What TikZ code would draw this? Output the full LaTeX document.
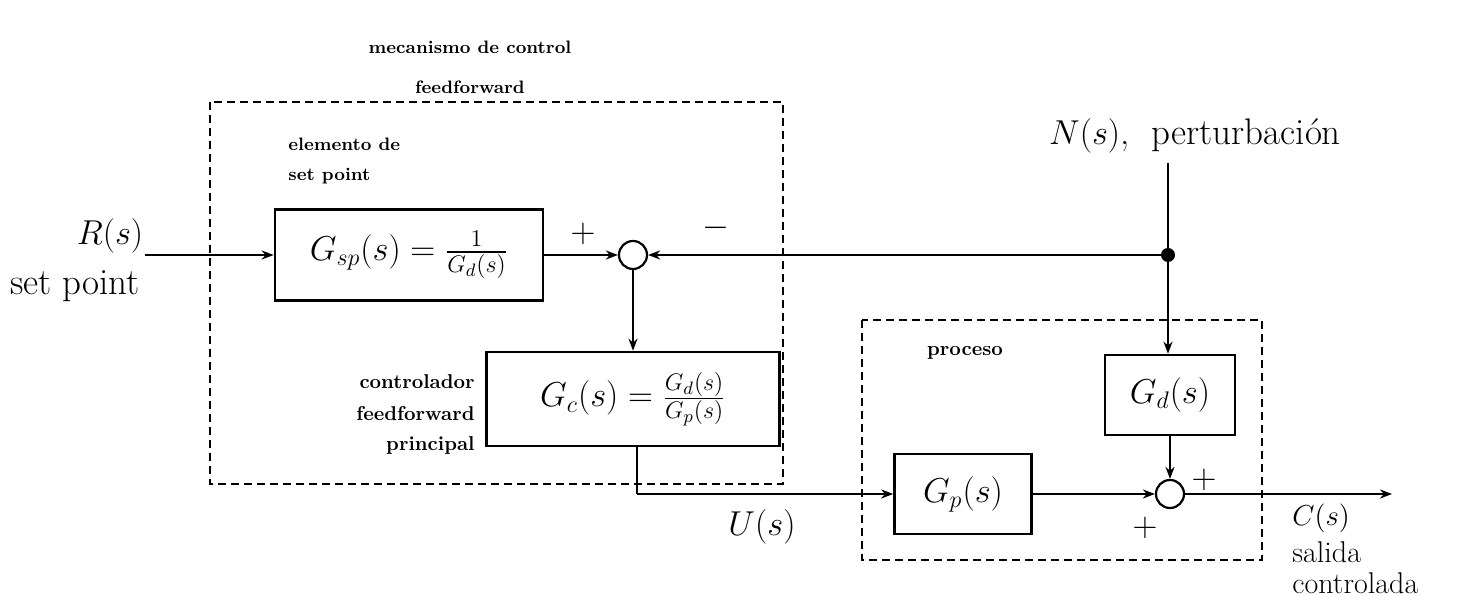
\documentclass[tikz,border=0pt]{standalone}
\usepackage{amsmath}
\usetikzlibrary{arrows.meta}
\begin{document}
\begin{tikzpicture}[x=0.5pt,y=-0.5pt,
  blk/.style={draw,line width=1.3pt,inner sep=0pt,font=\fontsize{18}{21}\selectfont},
  sumnode/.style={draw,circle,line width=1.1pt,minimum size=14pt,inner sep=0pt},
  arr/.style={line width=1.2pt,-{Stealth[length=6pt,width=4.5pt]}},
  ln/.style={line width=1.2pt},
  dbox/.style={line width=1.1pt,dash pattern=on 4pt off 2.5pt},
  lbl/.style={font=\small\bfseries,inner sep=0pt},
  lblb/.style={font=\normalsize\bfseries,inner sep=0pt},
  big/.style={font=\fontsize{18.5}{22}\selectfont,inner sep=0pt},
  outl/.style={font=\fontsize{15}{15.5}\selectfont,inner sep=0pt,align=left}]
\useasboundingbox (0,0) rectangle (1464,597);
% dashed frames
\draw[dbox] (210,102) rectangle (783,484);
\draw[dbox] (862,320) rectangle (1262,560);
% blocks
\node[blk,minimum width=134pt,minimum height=45.5pt] (gsp) at (409,255) {$G_{sp}(s)=\frac{1}{G_d(s)}$};
\node[blk,minimum width=146.5pt,minimum height=47pt] (gc) at (633,399) {$G_c(s)=\frac{G_d(s)}{G_p(s)}$};
\node[blk,minimum width=65pt,minimum height=40pt] (gd) at (1170,395) {$G_d(s)$};
\node[blk,minimum width=68.5pt,minimum height=40pt] (gp) at (963,494) {$G_p(s)$};
\node[sumnode] (s1) at (633,255) {};
\node[sumnode] (s2) at (1170,494) {};
% coordinates
\coordinate (rin) at (145,255);
\coordinate (ntop) at (1168,163);
\coordinate (dot) at (1168,255);
\coordinate (uc) at (637,494);
\coordinate (cout) at (1392,494);
\fill (dot) circle (3.5pt);
% connectors
\draw[arr] (rin) -- (gsp.west);
\draw[arr] (gsp.east) -- (s1.west);
\draw[ln] (ntop) -- (dot);
\draw[arr] (dot) -- (s1.east);
\draw[arr] (dot) -- (dot |- gd.north);
\draw[arr] (s1.south) -- (gc.north);
\draw[ln] (gc.south -| uc) -- (uc);
\draw[arr] (uc) -- (gp.west);
\draw[arr] (gp.east) -- (s2.west);
\draw[arr] (gd.south) -- (s2.north);
\draw[arr] (s2.east) -- (cout);
% texts
\node[big] (rs) at (110,236) {$R(s)$};
\node[big] (rsp) at (75,286) {set point};
\node[big] (plus1) at (583,234) {$+$};
\node[big] (minus1) at (716,228) {$-$};
\node[big] (ns) at (1195,136) {$N(s)$,\ \ perturbación};
\node[big] (us) at (762,527) {$U(s)$};
\node[big] (plus2) at (1204,480) {$+$};
\node[big] (plus3) at (1145,528) {$+$};
\node[outl,anchor=base west] (cs) at (1292,526) {$C(s)$};
\node[outl,anchor=south west] (sal) at (1292,594) {salida\\controlada};
\node[lbl] (mec) at (470,47) {mecanismo de control};
\node[lbl] (ffw) at (470,87) {feedforward};
\node[lbl,anchor=west] (el1) at (288,144) {elemento de};
\node[lbl,anchor=west] (el2) at (288,176) {set point};
\node[lblb,anchor=east] (c1) at (475,382) {controlador};
\node[lblb,anchor=east] (c2) at (475,414) {feedforward};
\node[lblb,anchor=east] (c3) at (475,446) {principal};
\node[lblb] (proc) at (965,353) {proceso};
\end{tikzpicture}
\end{document}
